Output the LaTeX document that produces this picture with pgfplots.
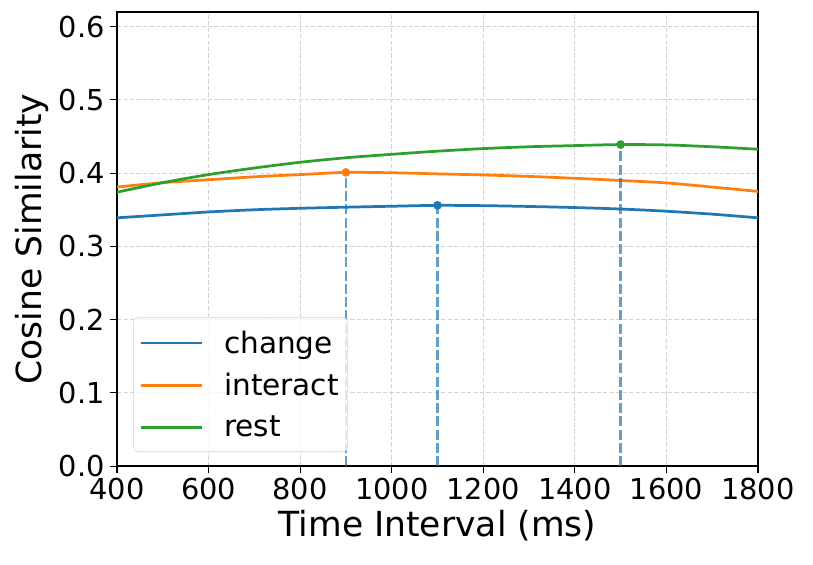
\documentclass[border=0pt]{standalone}
\usepackage{fontspec}
\setmainfont{DejaVu Sans}
\usepackage{pgfplots}
\pgfplotsset{compat=1.18}
\definecolor{tabblue}{HTML}{1F77B4}
\definecolor{taborange}{HTML}{FF7F0E}
\definecolor{tabgreen}{HTML}{2CA02C}
\begin{document}
\begin{tikzpicture}
\begin{axis}[
  scale only axis,
  width=445pt, height=315.3pt,
  xmin=400, xmax=1800, ymin=0, ymax=0.62,
  xtick={400,600,...,1800},
  ytick={0,0.1,0.2,0.3,0.4,0.5,0.6},
  /pgf/number format/assume math mode=true,
  /pgf/number format/set thousands separator={},
  yticklabel style={/pgf/number format/fixed,/pgf/number format/precision=1,/pgf/number format/fixed zerofill},
  tick label style={font=\fontsize{20}{24}\selectfont},
  label style={font=\fontsize{24}{28}\selectfont},
  xlabel={Time Interval (ms)},
  ylabel={Cosine Similarity},
  tick align=outside, tick pos=left,
  major tick length=5pt,
  every tick/.style={black, line width=0.8pt},
  axis line style={line width=0.9pt},
  grid=major,
  major grid style={gray!35, line width=0.6pt, dash pattern=on 3pt off 1.5pt},
  legend style={at={(0.025,0.031)}, anchor=south west, draw=gray!35, rounded corners=3pt,
    fill=white, fill opacity=0.8, text opacity=1, font=\fontsize{20.5}{24}\selectfont,
    inner xsep=4pt, inner ysep=7pt, row sep=8.5pt},
  legend cell align=left,
  legend image code/.code={\draw[#1, line width=2pt, draw opacity=1] (0pt,0pt) -- (43pt,0pt);},
]
\addplot[tabblue, line width=1.9pt, smooth] coordinates {
(400,0.339) (500,0.343) (600,0.347) (700,0.350) (800,0.352) (900,0.3535) (1000,0.3548) (1100,0.356) (1200,0.3556) (1300,0.3545) (1400,0.353) (1500,0.351) (1600,0.348) (1700,0.344) (1800,0.339)};
\addlegendentry{\hspace{12pt}change}
\addplot[taborange, line width=1.9pt, smooth] coordinates {
(400,0.381) (500,0.387) (600,0.391) (700,0.395) (800,0.398) (900,0.401) (1000,0.4005) (1100,0.399) (1200,0.3975) (1300,0.3955) (1400,0.393) (1500,0.390) (1600,0.3866) (1700,0.381) (1800,0.375)};
\addlegendentry{\hspace{12pt}interact}
\addplot[tabgreen, line width=1.9pt, smooth] coordinates {
(400,0.374) (500,0.387) (600,0.398) (700,0.407) (800,0.4148) (900,0.421) (1000,0.4257) (1100,0.430) (1200,0.4335) (1300,0.436) (1400,0.4376) (1500,0.439) (1600,0.4385) (1700,0.436) (1800,0.4326)};
\addlegendentry{\hspace{12pt}rest}
\addplot[tabblue, opacity=0.7, line width=1.9pt, dash pattern=on 7pt off 2.2pt, forget plot] coordinates {(900,0) (900,0.401)};
\addplot[tabblue, opacity=0.7, line width=1.9pt, dash pattern=on 7pt off 2.2pt, forget plot] coordinates {(1100,0) (1100,0.356)};
\addplot[tabblue, opacity=0.7, line width=1.9pt, dash pattern=on 7pt off 2.2pt, forget plot] coordinates {(1500,0) (1500,0.439)};
\addplot[only marks, mark=*, mark size=2.8pt, taborange, forget plot] coordinates {(900,0.401)};
\addplot[only marks, mark=*, mark size=2.8pt, tabblue, forget plot] coordinates {(1100,0.356)};
\addplot[only marks, mark=*, mark size=2.8pt, tabgreen, forget plot] coordinates {(1500,0.439)};
\end{axis}
\pgfresetboundingbox
\path ([shift={(-81.25pt,-68.1pt)}]current axis.south west) rectangle ([shift={(38.2pt,8.33pt)}]current axis.north east);
\end{tikzpicture}
\end{document}
